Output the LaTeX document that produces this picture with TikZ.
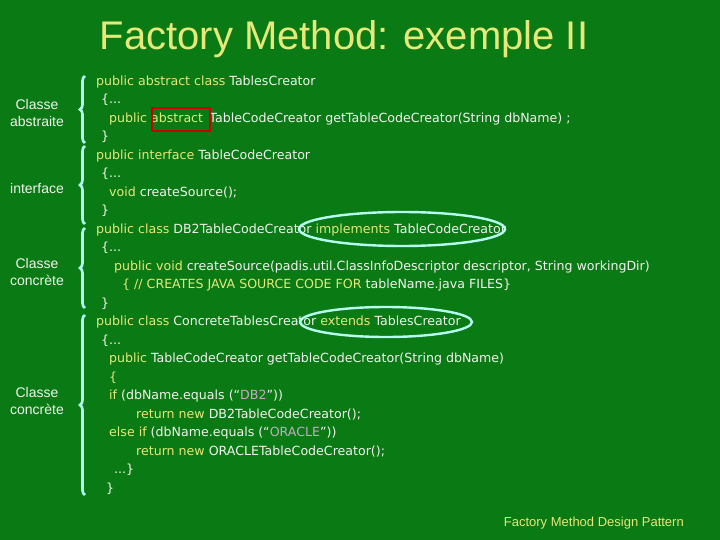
\documentclass[tikz,border=0pt]{standalone}
\usepackage{fontspec}
\setmainfont{Liberation Sans}
\newfontfamily\codefont{DejaVu Sans}
\usetikzlibrary{decorations.pathreplacing,shapes.geometric}
\definecolor{bg}{HTML}{0A7A14}
\definecolor{kw}{HTML}{E6E87A}
\definecolor{wt}{HTML}{F2F2EE}
\definecolor{st}{HTML}{C8A8C8}
\definecolor{cy}{HTML}{B4FFF0}
\newcommand{\K}[1]{\textcolor{kw}{#1}}
\newcommand{\W}[1]{\textcolor{wt}{#1}}
\newcommand{\Sg}[1]{\textcolor{st}{#1}}
\begin{document}
\begin{tikzpicture}[x=1pt,y=-1pt,
  code/.style={anchor=west,inner sep=0pt,font=\codefont\fontsize{12.6}{14}\selectfont,text=wt},
  lbl/.style={align=center,inner sep=0pt,font=\fontsize{14}{17}\selectfont,text=wt},
  br/.style={draw=cy,line width=2.6pt,decorate,decoration={brace,mirror,amplitude=5pt}},
  oval/.style={draw=cy,line width=2.4pt,ellipse}]
\fill[bg] (0,0) rectangle (720,540);
\useasboundingbox (0,0) rectangle (720,540);
\node[text=kw,font=\fontsize{40}{44}\selectfont,inner sep=0pt] (title) at (344,39) {Factory Method: exemple II};
\node[code] (l1) at (96,82) {\K{public abstract class} \W{ TablesCreator}};
\node[code] (l2) at (101,100) {\W{\{...}};
\node[code] (l3) at (109,119) {\K{public} \K{abstract}\enspace \W{TableCodeCreator getTableCodeCreator(String dbName) ;}};
\node[code] (l4) at (101,137) {\W{\}}};
\node[code] (l5) at (96,156) {\K{public interface} \W{TableCodeCreator}};
\node[code] (l6) at (101,174) {\W{\{...}};
\node[code] (l7) at (109,193) {\K{void} \W{createSource();}};
\node[code] (l8) at (101,211) {\W{\}}};
\node[code] (l9) at (96,230) {\K{public class} \W{DB2TableCodeCreator} \K{implements} \W{TableCodeCreator}};
\node[code] (l10) at (101,248) {\W{\{...}};
\node[code] (l11) at (114,267) {\K{public void} \W{createSource(padis.util.ClassInfoDescriptor descriptor, String workingDir)}};
\node[code] (l12) at (122,285) {\K{\{ // CREATES JAVA SOURCE CODE FOR} \W{tableName.java FILES\}}};
\node[code] (l13) at (101,304) {\W{\}}};
\node[code] (l14) at (96,322) {\K{public class} \W{ConcreteTablesCreator} \K{extends} \W{TablesCreator}};
\node[code] (l15) at (101,341) {\W{\{...}};
\node[code] (l16) at (109,359) {\K{public} \W{TableCodeCreator getTableCodeCreator(String dbName)}};
\node[code] (l17) at (109,378) {\K{\{}};
\node[code] (l18) at (109,396) {\K{if} \W{(dbName.equals (“}\Sg{DB2}\W{”))}};
\node[code] (l19) at (136,415) {\K{return new} \W{DB2TableCodeCreator();}};
\node[code] (l20) at (109,433) {\K{else if} \W{(dbName.equals (“}\Sg{ORACLE}\W{”))}};
\node[code] (l21) at (136,452) {\K{return new} \W{ORACLETableCodeCreator();}};
\node[code] (l22) at (114,470) {\W{...\}}};
\node[code] (l23) at (106,489) {\W{\}}};
\node[draw=red!80!black,line width=2.4pt,minimum width=58pt,minimum height=23pt,inner sep=0pt] (box) at (181,119.5) {};
\node[oval,minimum width=206pt,minimum height=34pt] (o1) at (402,229) {};
\node[oval,minimum width=172pt,minimum height=30pt] (o2) at (386,322) {};
\draw[br] (85,76) -- (85,143);
\draw[br] (85,146) -- (85,224);
\draw[br] (85,228) -- (85,308);
\draw[br] (85,315) -- (85,495);
\node[lbl] (a1) at (37,113) {Classe\\abstraite};
\node[lbl] (a2) at (37,188) {interface};
\node[lbl] (a3) at (37,272) {Classe\\concrète};
\node[lbl] (a4) at (37,401) {Classe\\concrète};
\node[anchor=east,inner sep=0pt,text=kw,font=\fontsize{13}{15}\selectfont] (foot) at (684,523) {Factory Method Design Pattern};
\end{tikzpicture}
\end{document}
